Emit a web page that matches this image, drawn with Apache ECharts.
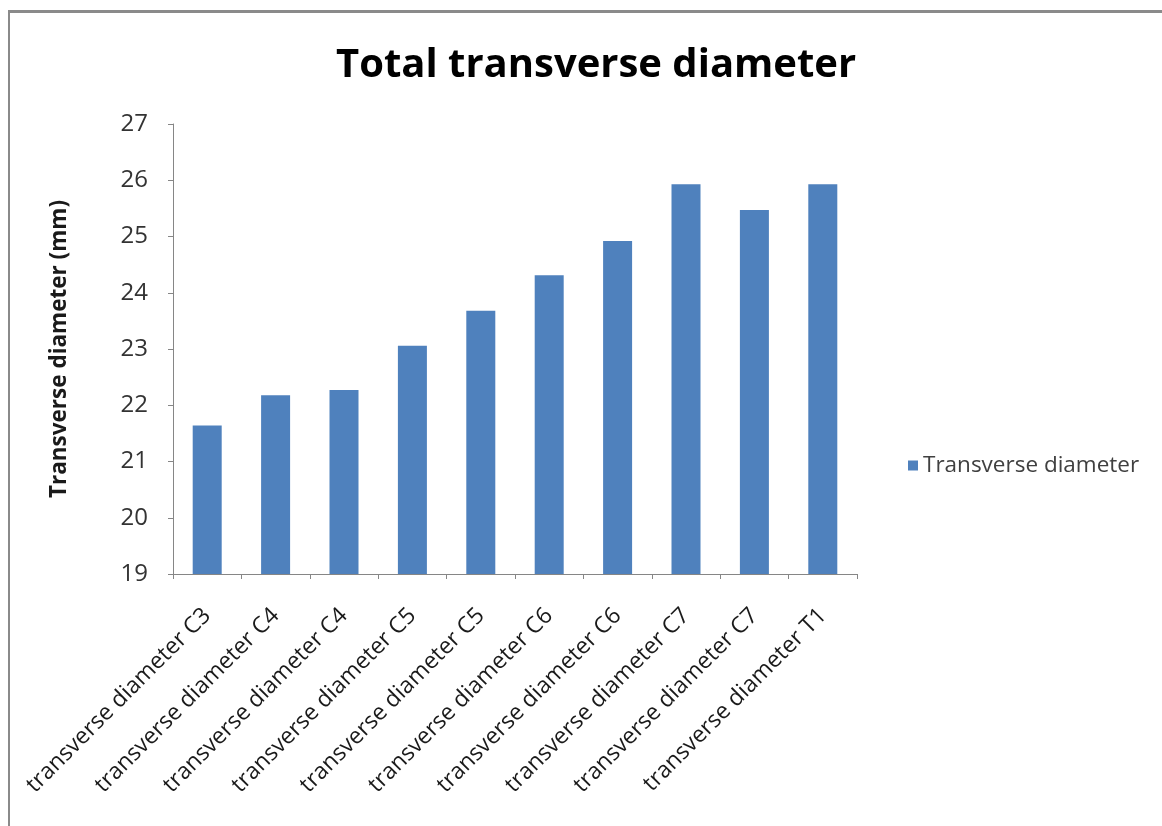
<!DOCTYPE html>
<html>
<head>
<meta charset="utf-8">
<title>Total transverse diameter</title>
<script src="https://cdn.jsdelivr.net/npm/echarts@6/dist/echarts.min.js"></script>
<style>
  html, body { margin: 0; padding: 0; background: #ffffff; }
  #chart { width: 1162px; height: 826px; }
</style>
</head>
<body>
<div id="chart"></div>
<script>
// Vertebral level labels along the x axis
const categories = [
  'transverse diameter C3',
  'transverse diameter C4',
  'transverse diameter C4',
  'transverse diameter C5',
  'transverse diameter C5',
  'transverse diameter C6',
  'transverse diameter C6',
  'transverse diameter C7',
  'transverse diameter C7',
  'transverse diameter T1'
];

// Mean transverse diameter per level (mm)
const transverseDiameter = [21.64, 22.18, 22.27, 23.06, 23.68, 24.31, 24.92, 25.93, 25.47, 25.93];

// Value axis range
const yMin = 19;
const yMax = 27;
const yStep = 1;

const chart = echarts.init(document.getElementById('chart'), null, { renderer: 'canvas' });

const axisGray = '#868686';
const textFont = '"Open Sans", "Noto Sans", sans-serif';

chart.setOption({
  backgroundColor: '#ffffff',
  animation: false,
  title: {
    text: 'Total transverse diameter',
    left: 331,
    top: 41,
    textStyle: {
      fontFamily: textFont,
      fontWeight: 'bold',
      fontSize: 40,
      color: '#000000'
    }
  },
  legend: {
    orient: 'vertical',
    left: 903,
    top: 449,
    icon: 'rect',
    itemWidth: 10,
    itemHeight: 10,
    itemGap: 10,
    textStyle: {
      fontFamily: textFont,
      fontSize: 22.5,
      color: '#404040'
    },
    data: ['Transverse diameter']
  },
  grid: {
    left: 173,
    right: 305,
    top: 124,
    bottom: 252,
    containLabel: false
  },
  xAxis: {
    type: 'category',
    data: categories,
    boundaryGap: true,
    axisLine: { show: true, lineStyle: { color: axisGray, width: 1 } },
    axisTick: { show: true, alignWithLabel: false, length: 5, lineStyle: { color: axisGray } },
    axisLabel: {
      interval: 0,
      rotate: 45,
      margin: 38,
      fontFamily: textFont,
      fontSize: 23,
      color: '#1a1a1a'
    },
    splitLine: { show: false }
  },
  yAxis: {
    type: 'value',
    min: yMin,
    max: yMax,
    interval: yStep,
    name: 'Transverse diameter (mm)',
    nameLocation: 'middle',
    nameGap: 102,
    nameTextStyle: {
      fontFamily: textFont,
      fontWeight: 'bold',
      fontSize: 22.5,
      color: '#1a1a1a'
    },
    axisLine: { show: true, lineStyle: { color: axisGray, width: 1 } },
    axisTick: { show: true, length: 5, lineStyle: { color: axisGray } },
    axisLabel: {
      margin: 25,
      fontFamily: textFont,
      fontSize: 24,
      color: '#333333'
    },
    splitLine: { show: false }
  },
  series: [{
    name: 'Transverse diameter',
    type: 'bar',
    data: transverseDiameter,
    barWidth: 29,
    itemStyle: { color: '#4F81BD' }
  }],
  graphic: [
    // Outer frame: heavy top rule and thin left rule
    {
      type: 'rect',
      shape: { x: 8, y: 10, width: 1154, height: 3 },
      style: { fill: '#8a8a8a' },
      silent: true
    },
    {
      type: 'rect',
      shape: { x: 8, y: 10, width: 2, height: 816 },
      style: { fill: '#8a8a8a' },
      silent: true
    }
  ]
});
</script>
</body>
</html>
